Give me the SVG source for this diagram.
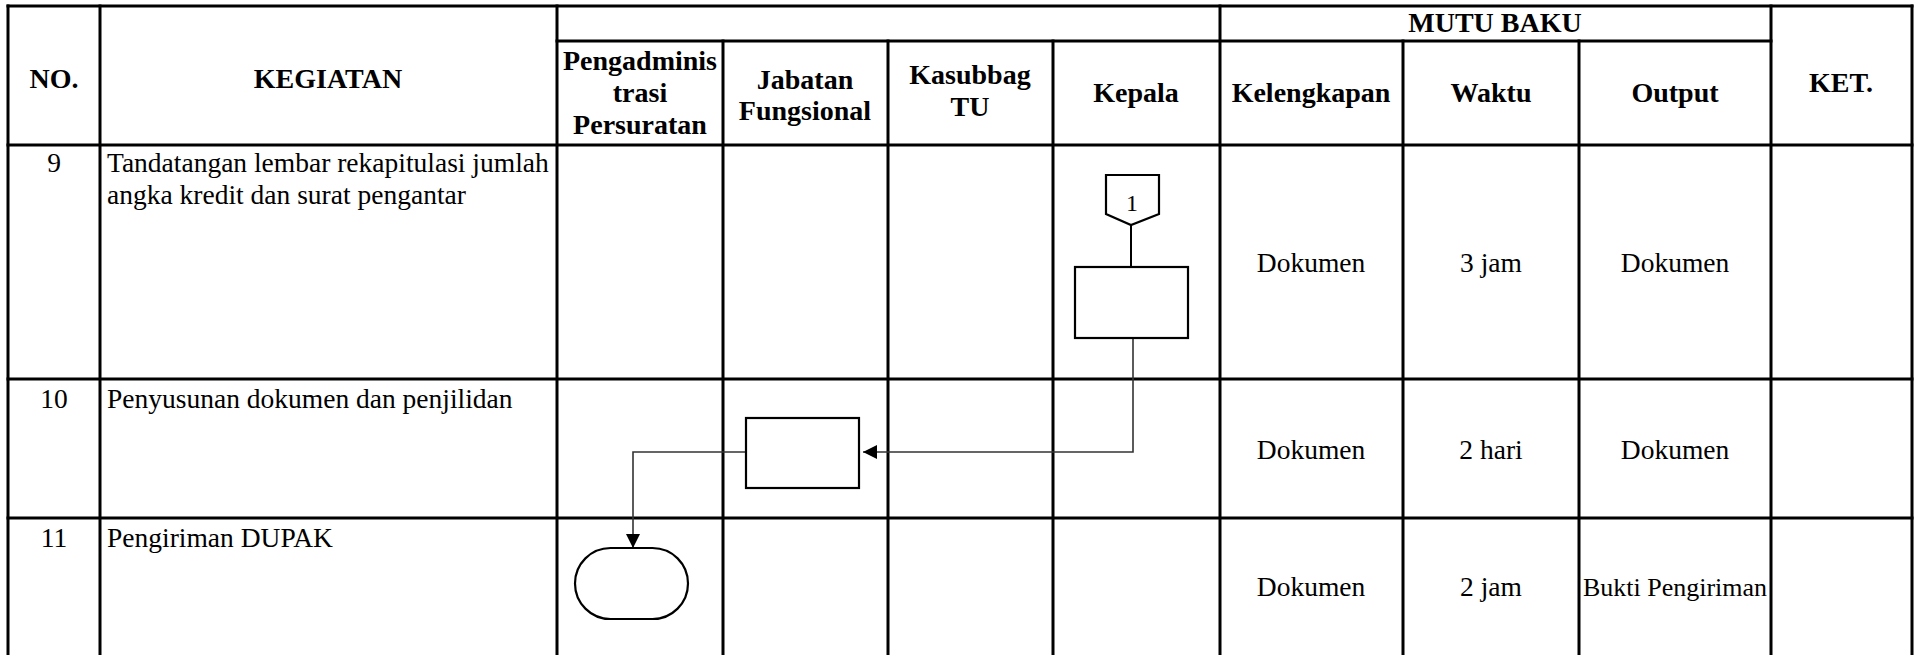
<svg xmlns="http://www.w3.org/2000/svg" width="1919" height="655" viewBox="0 0 1919 655">
<defs>
<style>
.grid{stroke:#000;stroke-width:3;fill:none;stroke-linecap:square}
.hd{font-family:"Liberation Serif","Times New Roman",serif;font-weight:bold;font-size:28px;fill:#000;text-anchor:middle}
.tx{font-family:"Liberation Serif","Times New Roman",serif;font-size:27.5px;fill:#000}
.c{text-anchor:middle}
.shape{fill:#fff;stroke:#000;stroke-width:2.2}
.conn{fill:none;stroke:#333;stroke-width:1.6}
</style>
<marker id="arr" markerWidth="14" markerHeight="14" refX="14" refY="7" orient="auto" markerUnits="userSpaceOnUse">
<path d="M0,0 L14,7 L0,14 Z" fill="#000"/>
</marker>
</defs>
<rect width="1919" height="655" fill="#fff"/>
<g id="table">
<line class="grid" x1="8" y1="6" x2="1912" y2="6"/>
<line class="grid" x1="557" y1="41" x2="1771" y2="41"/>
<line class="grid" x1="8" y1="145" x2="1912" y2="145"/>
<line class="grid" x1="8" y1="379" x2="1912" y2="379"/>
<line class="grid" x1="8" y1="518" x2="1912" y2="518"/>
<line class="grid" x1="8" y1="6" x2="8" y2="658"/>
<line class="grid" x1="100" y1="6" x2="100" y2="658"/>
<line class="grid" x1="557" y1="6" x2="557" y2="658"/>
<line class="grid" x1="723" y1="41" x2="723" y2="658"/>
<line class="grid" x1="888" y1="41" x2="888" y2="658"/>
<line class="grid" x1="1053" y1="41" x2="1053" y2="658"/>
<line class="grid" x1="1220" y1="6" x2="1220" y2="658"/>
<line class="grid" x1="1403" y1="41" x2="1403" y2="658"/>
<line class="grid" x1="1579" y1="41" x2="1579" y2="658"/>
<line class="grid" x1="1771" y1="6" x2="1771" y2="658"/>
<line class="grid" x1="1912" y1="6" x2="1912" y2="658"/>
</g>
<g id="header">
<text class="hd" x="54" y="88">NO.</text>
<text class="hd" x="328" y="88">KEGIATAN</text>
<text class="hd" x="1495" y="32">MUTU BAKU</text>
<text class="hd" x="1841" y="92">KET.</text>
<text class="hd" x="640" y="70">Pengadminis</text>
<text class="hd" x="640" y="102">trasi</text>
<text class="hd" x="640" y="134">Persuratan</text>
<text class="hd" x="805" y="89">Jabatan</text>
<text class="hd" x="805" y="120">Fungsional</text>
<text class="hd" x="970" y="84">Kasubbag</text>
<text class="hd" x="970" y="116">TU</text>
<text class="hd" x="1136" y="102">Kepala</text>
<text class="hd" x="1311" y="102">Kelengkapan</text>
<text class="hd" x="1491" y="102">Waktu</text>
<text class="hd" x="1675" y="102">Output</text>
</g>
<g id="row9">
<text class="tx c" x="54" y="172">9</text>
<text class="tx" x="107" y="172">Tandatangan lembar rekapitulasi jumlah</text>
<text class="tx" x="107" y="204">angka kredit dan surat pengantar</text>
<text class="tx c" x="1311" y="272">Dokumen</text>
<text class="tx c" x="1491" y="272">3 jam</text>
<text class="tx c" x="1675" y="272">Dokumen</text>
</g>
<g id="row10">
<text class="tx c" x="54" y="408">10</text>
<text class="tx" x="107" y="408">Penyusunan dokumen dan penjilidan</text>
<text class="tx c" x="1311" y="459">Dokumen</text>
<text class="tx c" x="1491" y="459">2 hari</text>
<text class="tx c" x="1675" y="459">Dokumen</text>
</g>
<g id="row11">
<text class="tx c" x="54" y="547">11</text>
<text class="tx" x="107" y="547">Pengiriman DUPAK</text>
<text class="tx c" x="1311" y="596">Dokumen</text>
<text class="tx c" x="1491" y="596">2 jam</text>
<text class="tx c" x="1675" y="596" style="font-size:26px">Bukti Pengiriman</text>
</g>
<g id="connectors">
<line x1="1131" y1="224" x2="1131" y2="267" stroke="#000" stroke-width="2"/>
<polyline class="conn" points="1133,338 1133,452 863,452" marker-end="url(#arr)"/>
<polyline class="conn" points="746,452 633,452 633,548" marker-end="url(#arr)"/>
</g>
<g id="node-offpage">
<polygon class="shape" points="1106,175 1159,175 1159,214 1131,225 1106,214"/>
<text class="tx c" x="1132" y="211" style="font-size:24px">1</text>
</g>
<g id="node-kepala">
<rect class="shape" x="1075" y="267" width="113" height="71"/>
</g>
<g id="node-jabatan">
<rect class="shape" x="746" y="418" width="113" height="70"/>
</g>
<g id="node-end">
<rect class="shape" x="575" y="548" width="113" height="71" rx="35.5" ry="35.5"/>
</g>
</svg>
